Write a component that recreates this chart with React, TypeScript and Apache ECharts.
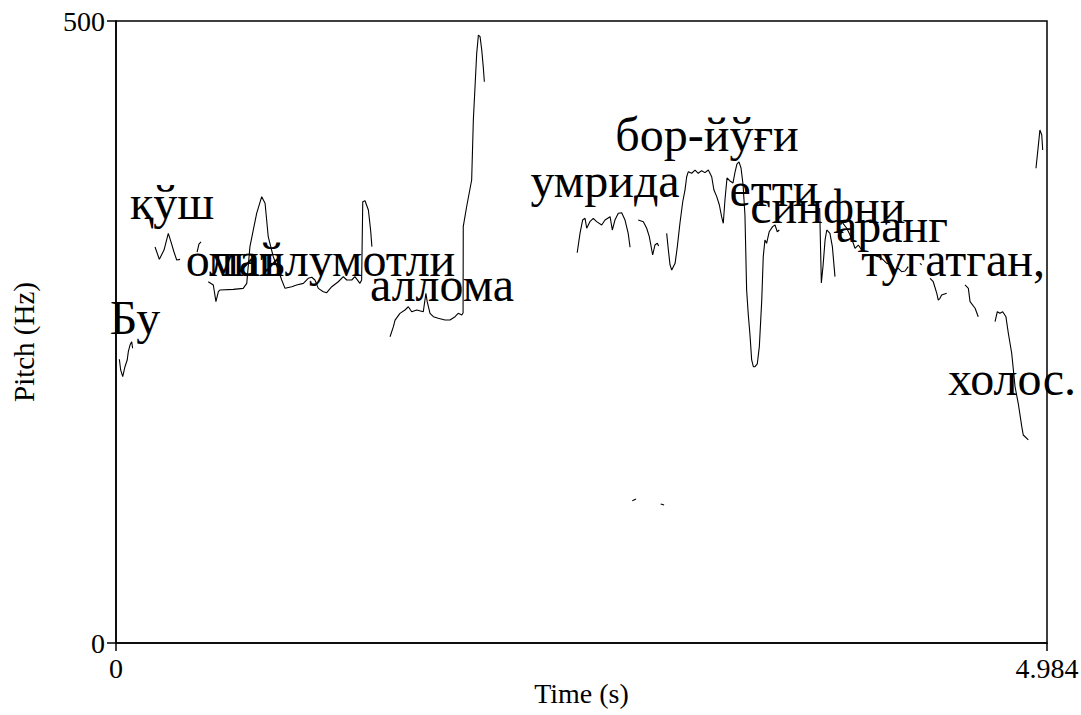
import React, { useEffect, useRef } from "react";
import * as echarts from "echarts";

// Axis tick labels
const xTickLabels = ["0", "4.984"];
const yTickLabels = ["0", "500"];
const timeMax = 4.984;
const pitchMax = 500;

// Word annotations (centre time in s, pitch position in Hz)
const words = ["Бу", "қўш", "олий", "маълумотли", "аллома", "умрида", "бор-йўғи", "етти", "синфни", "аранг", "тугатган,", "холос."];
const wordTimes = [0.102, 0.300, 0.637, 1.156, 1.745, 2.618, 3.164, 3.522, 3.811, 4.154, 4.481, 4.797];
const wordPitch = [261.6, 354.1, 308.3, 308.3, 288.2, 371.8, 408.8, 364.5, 350.9, 335.6, 308.3, 212.6];

// Pitch contour segments [time (s), pitch (Hz)]
const seg01 = [[0.018, 228.1], [0.025, 219.5], [0.036, 214.1], [0.048, 222.1], [0.060, 227.5], [0.066, 234.2], [0.075, 239.5], [0.084, 242.2], [0.089, 236.9]];
const seg02 = [[0.209, 318.3], [0.232, 308.4], [0.257, 315.9], [0.280, 329.3], [0.294, 322.6], [0.310, 314.5], [0.325, 307.9], [0.343, 308.4]];
const seg03 = [[0.434, 314.3], [0.444, 320.7], [0.455, 322.4]];
const seg04 = [[0.494, 290.4], [0.521, 287.8], [0.535, 274.4], [0.548, 282.4], [0.557, 283.8], [0.628, 284.3], [0.681, 285.1], [0.700, 289.1], [0.717, 318.6], [0.753, 345.4], [0.780, 358.8], [0.798, 353.5], [0.815, 326.6], [0.842, 310.5], [0.869, 299.8], [0.887, 291.8], [0.905, 285.1], [0.941, 286.4], [0.967, 287.8], [1.003, 289.1], [1.029, 293.2], [1.048, 294.0], [1.065, 291.8], [1.083, 285.1], [1.110, 282.4], [1.128, 281.6], [1.155, 286.4], [1.190, 290.4], [1.217, 294.5], [1.235, 291.8], [1.262, 291.8], [1.279, 294.5], [1.306, 289.1], [1.315, 291.8], [1.321, 354.7], [1.333, 355.5], [1.351, 348.1], [1.363, 332.0], [1.370, 318.6]];
const seg05 = [[1.467, 246.2], [1.485, 254.3], [1.494, 259.6], [1.520, 265.0], [1.547, 267.7], [1.565, 270.3], [1.583, 266.3], [1.610, 267.7], [1.645, 266.3], [1.659, 281.1], [1.666, 274.4], [1.681, 265.0], [1.699, 262.3], [1.725, 261.0], [1.761, 259.6], [1.788, 259.6], [1.815, 262.3], [1.832, 265.0], [1.851, 263.7], [1.858, 265.3], [1.859, 334.7], [1.877, 350.7], [1.904, 372.2], [1.913, 420.4], [1.922, 447.2], [1.931, 474.0], [1.940, 488.7], [1.949, 487.4], [1.958, 476.7], [1.966, 463.3], [1.972, 451.2]];
const seg06 = [[2.469, 313.7], [2.484, 329.3], [2.498, 340.0], [2.511, 341.4], [2.520, 333.4], [2.537, 338.7], [2.555, 341.4], [2.573, 338.7], [2.600, 336.0], [2.618, 340.0], [2.645, 342.7], [2.657, 332.0], [2.671, 340.0], [2.689, 345.4], [2.707, 345.9], [2.725, 340.0], [2.742, 329.3], [2.752, 318.1]];
const seg07 = [[2.796, 340.0], [2.823, 338.7], [2.841, 333.4], [2.855, 326.6], [2.873, 311.9], [2.885, 319.9], [2.898, 321.3], [2.905, 319.1]];
const seg08 = [[2.764, 114.4], [2.784, 115.8]];
const seg09 = [[2.916, 111.7], [2.934, 110.9]];
const seg10 = [[2.948, 329.3], [2.957, 315.9], [2.966, 303.9], [2.975, 299.8], [2.993, 305.2], [3.005, 318.6], [3.019, 337.4], [3.034, 354.7], [3.046, 364.1], [3.055, 374.8], [3.064, 378.9], [3.082, 377.6], [3.100, 380.2], [3.117, 377.6], [3.135, 379.7], [3.153, 378.1], [3.171, 380.2], [3.189, 374.8], [3.201, 364.1], [3.216, 358.8], [3.230, 352.1], [3.242, 342.7], [3.251, 337.4], [3.260, 356.1], [3.271, 373.8], [3.287, 371.4], [3.303, 369.8], [3.314, 378.6], [3.324, 385.0], [3.335, 386.7], [3.346, 381.8], [3.357, 368.2], [3.367, 344.1], [3.376, 283.8], [3.385, 263.7], [3.394, 247.6], [3.403, 227.5], [3.412, 222.1], [3.421, 222.1], [3.433, 224.3], [3.444, 238.2], [3.457, 275.7], [3.465, 310.5], [3.474, 324.0], [3.483, 321.3], [3.497, 330.6], [3.515, 334.7], [3.528, 336.0], [3.540, 330.6], [3.551, 332.0]];
const seg11 = [[3.767, 349.7], [3.772, 315.9], [3.776, 289.4], [3.785, 303.1], [3.796, 324.0], [3.805, 332.0], [3.822, 329.3], [3.835, 318.6], [3.849, 294.5]];
const seg12 = [[3.885, 338.7], [3.912, 333.4], [3.938, 325.3], [3.956, 317.3], [3.974, 319.9], [3.992, 315.9]];
const seg13 = [[4.054, 311.9], [4.081, 310.5], [4.099, 309.2], [4.126, 305.2], [4.153, 303.9], [4.170, 299.8], [4.188, 301.2], [4.206, 298.5], [4.224, 299.0], [4.241, 302.5]];
const seg14 = [[4.304, 305.2], [4.313, 303.9]];
const seg15 = [[4.358, 293.2], [4.375, 290.4], [4.394, 281.1], [4.402, 275.7], [4.411, 277.1], [4.420, 279.7], [4.447, 281.1]];
const seg16 = [[4.545, 287.8], [4.563, 285.1], [4.572, 274.4], [4.599, 269.1], [4.616, 262.3]];
const seg17 = [[4.706, 258.3], [4.718, 266.3], [4.732, 265.0], [4.747, 266.3], [4.764, 262.3], [4.777, 249.0], [4.795, 232.9], [4.813, 206.0], [4.830, 192.7], [4.849, 173.9], [4.857, 167.2], [4.884, 163.2]];
const seg18 = [[4.925, 381.6], [4.937, 399.0], [4.946, 412.4], [4.956, 408.4], [4.961, 396.3]];

const segments = [seg01, seg02, seg03, seg04, seg05, seg06, seg07, seg08, seg09, seg10, seg11, seg12, seg13, seg14, seg15, seg16, seg17, seg18];

const FONT = "Liberation Serif";

export default function App() {
  const ref = useRef<HTMLDivElement>(null);

  useEffect(() => {
    if (!ref.current) return;
    const chart = echarts.init(ref.current, null, { renderer: "svg" });

    const lineSeries = segments.map((seg) => ({
      type: "line",
      data: seg,
      symbol: "none",
      silent: true,
      lineStyle: { color: "#000", width: 1.1 },
      z: 2,
    }));

    const wordSeries = {
      type: "scatter",
      symbolSize: 0,
      silent: true,
      itemStyle: { opacity: 1, color: "#000" },
      data: words.map((w, i) => ({ name: w, value: [wordTimes[i], wordPitch[i]] })),
      label: {
        show: true,
        position: "inside",
        formatter: "{b}",
        fontFamily: FONT,
        fontSize: 48,
        color: "#000",
        opacity: 1,
        textBorderWidth: 0,
      },
      labelLayout: { hideOverlap: false },
      z: 3,
    };

    chart.setOption({
      animation: false,
      backgroundColor: "#ffffff",
      grid: {
        left: 116,
        top: 21,
        right: 34,
        bottom: 72,
        outerBoundsMode: "none",
        show: true,
        borderColor: "#000",
        borderWidth: 1.5,
        backgroundColor: "transparent",
      },
      xAxis: {
        type: "value",
        min: 0,
        max: timeMax,
        interval: timeMax,
        name: "Time (s)",
        nameLocation: "middle",
        nameGap: 36,
        nameMoveOverlap: false,
        nameTextStyle: { fontFamily: FONT, fontSize: 28, color: "#000" },
        axisLine: { show: true, lineStyle: { color: "#000", width: 1.5 } },
        axisTick: { show: true, inside: false, length: 8, lineStyle: { color: "#000", width: 1.5 } },
        axisLabel: {
          showMinLabel: true,
          showMaxLabel: true,
          margin: 11,
          fontFamily: FONT,
          fontSize: 28,
          color: "#000",
          formatter: (v: number) => (v < timeMax / 2 ? xTickLabels[0] : xTickLabels[1]),
        },
        splitLine: { show: false },
      },
      yAxis: {
        type: "value",
        min: 0,
        max: pitchMax,
        interval: pitchMax,
        name: "Pitch (Hz)",
        nameLocation: "middle",
        nameGap: 78,
        nameRotate: 90,
        nameTextStyle: { fontFamily: FONT, fontSize: 29, color: "#000", padding: [0, 20, 0, 0] },
        axisLine: { show: true, lineStyle: { color: "#000", width: 1.5 } },
        axisTick: { show: true, inside: false, length: 9, lineStyle: { color: "#000", width: 1.5 } },
        axisLabel: {
          showMinLabel: true,
          showMaxLabel: true,
          margin: 11,
          fontFamily: FONT,
          fontSize: 28,
          color: "#000",
          formatter: (v: number) => (v < pitchMax / 2 ? yTickLabels[0] : yTickLabels[1]),
        },
        splitLine: { show: false },
      },
      series: [...lineSeries, wordSeries],
    });

    return () => {
      chart.dispose();
    };
  }, []);

  return (
    <div
      ref={ref}
      style={{ position: "fixed", left: 0, top: 0, width: 1081, height: 715, background: "#fff" }}
    />
  );
}
